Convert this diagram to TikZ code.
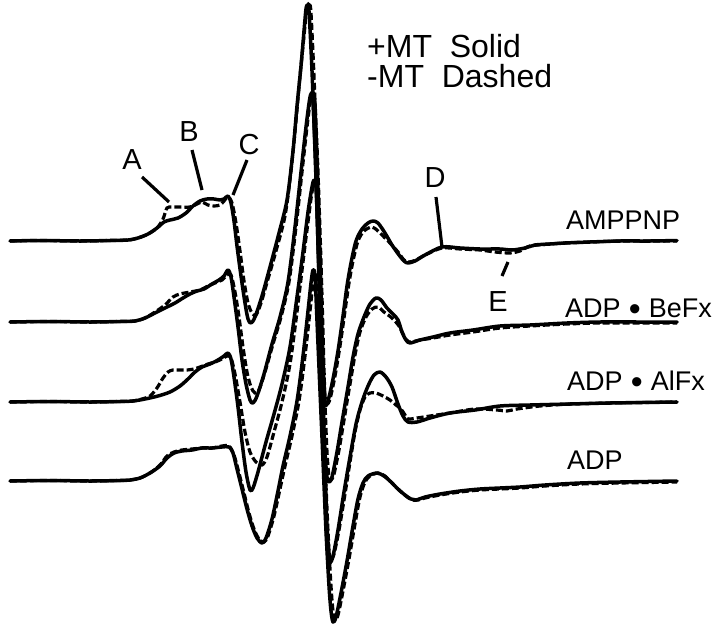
\documentclass[tikz,border=0pt]{standalone}
\usepackage{fontspec}
\setmainfont{Liberation Sans}
\newcommand{\bigdot}{\hspace{0.3em}\raisebox{-2.6pt}{\fontsize{34}{34}\selectfont•}\hspace{0.3em}}
\begin{document}
\begin{tikzpicture}[x=1pt,y=-1pt,
  solidcurve/.style={line width=3.5pt,line join=round,line cap=round},
  dashcurve/.style={line width=3.2pt,dash pattern=on 7pt off 3pt},
  pointer/.style={line width=3.2pt},
  lbl/.style={font=\fontsize{27}{29}\selectfont,anchor=west,inner sep=0pt},
  letter/.style={font=\fontsize{29}{31}\selectfont,inner sep=0pt},
  legend/.style={font=\fontsize{32}{34}\selectfont,anchor=west,inner sep=0pt}]
\useasboundingbox (0,0) rectangle (720,632);
\fill[white] (0,0) rectangle (720,632);
% ---------- AMPPNP ----------
\begin{scope}[shift={(0,241)},yscale=-1]
\draw[solidcurve] plot[smooth,tension=0.5] coordinates {(10,0) (40,0.5) (80,0) (110,0.5) (128,1) (138,3) (148,7) (157,13) (164,19) (170,21) (178,23) (186,28) (193,35) (200,40) (207,42) (214,42) (220,41) (224,42) (228,45) (231,38) (234,20) (237,-5) (241,-35) (245,-62) (248,-78) (251,-82) (255,-76) (262,-55) (270,-26) (279,8) (287,41) (293,90) (297,135) (301,175) (304,210) (306,232) (307.5,236) (309,230) (312,170) (315,90) (317,31) (319,-40) (321,-110) (323,-155) (325,-165) (328,-160) (333,-138) (338,-110) (343,-75) (347,-45) (351,-22) (356,0) (362,12) (368,18) (373,20) (378,18) (385,8) (392,-4) (399,-14) (404,-20) (408,-22) (415,-20) (425,-14) (442,-6) (460,-7) (480,-8) (500,-8) (512,-9) (525,-7) (535,-4) (550,-3) (565,-2) (590,-1) (620,0) (650,0) (677,0.5)};
\draw[dashcurve] plot[smooth,tension=0.5] coordinates {(10,0) (40,0.5) (80,0) (110,0.5) (128,1) (138,3) (148,7) (157,13) (163,22) (167,33) (172,34) (180,34) (190,34) (197,37) (202,39) (208,36) (214,35) (220,36) (224,40) (228,44) (232,38) (236,18) (240,-10) (244,-40) (248,-62) (252,-72) (256,-74) (261,-62) (268,-38) (276,-10) (285,25) (291,70) (296,120) (300,165) (304,205) (307,234) (309.5,236) (311,228) (314,165) (317,85) (319,25) (321,-45) (323,-115) (325,-155) (327,-163) (330,-158) (335,-135) (340,-105) (345,-70) (349,-42) (353,-20) (358,0) (364,10) (372,14) (378,10) (384,4) (390,-2) (398,-11) (404,-19) (409,-21) (416,-19) (425,-14) (442,-7) (460,-8) (480,-9) (495,-11) (510,-12) (520,-10) (530,-5) (550,-3) (565,-2) (590,-1) (620,0) (650,0) (677,0)};
\end{scope}
% ---------- ADP.BeFx ----------
\begin{scope}[shift={(0,322)},yscale=-1]
\draw[solidcurve] plot[smooth,tension=0.5] coordinates {(10,0) (50,0.5) (90,0) (120,0.5) (135,1) (145,4) (155,9) (165,14) (175,19) (183,24) (190,28) (197,31) (204,33) (212,38) (219,42) (224,46) (228,52) (231,45) (234,25) (238,-5) (242,-38) (246,-62) (250,-78) (253,-81) (257,-74) (264,-52) (272,-22) (280,5) (288,40) (295,95) (301,150) (306,195) (309.5,222) (311.5,229) (313,222) (316,150) (319,60) (321,-10) (323,-80) (325,-130) (327,-155) (329,-160) (332,-155) (337,-130) (342,-100) (348,-65) (353,-35) (358,-12) (364,5) (370,18) (376,24) (381,22) (387,14) (393,8) (398,2) (402,-10) (406,-18) (410,-21) (420,-18) (433,-15) (450,-11) (473,-8) (500,-4) (530,-3) (567,-1) (600,0) (640,0) (677,0)};
\draw[dashcurve] plot[smooth,tension=0.5] coordinates {(10,0) (50,0.5) (90,0) (120,0.5) (135,1) (145,4) (155,10) (165,17) (173,25) (180,28) (190,30) (200,32) (208,36) (215,39) (222,42) (227,47) (231,47) (235,30) (239,5) (243,-25) (247,-50) (251,-65) (255,-71) (259,-68) (265,-50) (273,-22) (281,5) (289,40) (296,95) (302,150) (307,195) (310.5,222) (313,229) (315,220) (318,150) (321,60) (323,-10) (325,-80) (327,-130) (329,-155) (331,-158) (334,-152) (339,-128) (344,-98) (350,-62) (355,-33) (360,-10) (366,5) (372,13) (378,15) (384,10) (392,4) (399,-4) (404,-14) (409,-20) (420,-18) (433,-16) (450,-13) (473,-10) (500,-6) (530,-4) (567,-2) (600,-1) (640,-1) (677,-1)};
\end{scope}
% ---------- ADP.AlFx ----------
\begin{scope}[shift={(0,402)},yscale=-1]
\draw[solidcurve] plot[smooth,tension=0.5] coordinates {(10,0) (50,0.5) (90,0) (120,0.5) (133,1) (145,3) (158,6) (170,10) (180,16) (188,23) (195,30) (202,35) (210,38) (218,42) (224,46) (228,49) (231,43) (234,25) (238,-5) (242,-40) (246,-70) (250,-88) (253,-86) (258,-70) (266,-40) (274,-12) (282,18) (290,55) (297,105) (303,150) (308,190) (312,215) (314,222) (316,215) (318,160) (320,90) (322,20) (324,-60) (326,-120) (328,-155) (330,-161) (333,-154) (338,-128) (344,-90) (350,-55) (356,-22) (362,0) (368,16) (374,27) (380,30) (386,25) (392,15) (398,-2) (403,-14) (408,-20) (417,-20) (430,-16) (450,-11) (475,-8) (500,-4) (530,-3) (570,-2) (610,-1) (677,0)};
\draw[dashcurve] plot[smooth,tension=0.5] coordinates {(10,0) (50,0.5) (90,0) (120,0.5) (133,1) (142,3) (150,6) (157,14) (163,24) (168,30) (173,32) (180,32) (187,32) (194,33) (200,35) (208,38) (215,40) (222,43) (227,46) (231,44) (235,28) (240,0) (245,-30) (250,-50) (256,-60) (262,-63) (267,-55) (274,-30) (282,0) (290,38) (297,90) (303,140) (308,180) (312,210) (315,220) (317,212) (319,160) (321,90) (323,20) (325,-60) (327,-120) (329,-150) (331,-157) (334,-152) (339,-128) (345,-92) (350,-60) (355,-30) (360,-8) (365,5) (370,9) (376,9) (383,6) (390,2) (396,-3) (401,-7) (405,-13) (408,-17) (417,-16) (430,-14) (450,-11) (475,-7) (497,-8) (507,-9) (517,-7) (540,-4) (570,-2) (610,-1) (677,0)};
\end{scope}
% ---------- ADP ----------
\begin{scope}[shift={(0,481)},yscale=-1]
\draw[solidcurve] plot[smooth,tension=0.5] coordinates {(10,0) (50,0.5) (90,0) (120,0.5) (130,1) (140,3) (150,8) (160,15) (167,23) (174,28) (182,30) (192,31) (202,33) (212,33) (222,34) (229,34) (233,28) (237,12) (242,-8) (247,-28) (252,-45) (257,-57) (262,-62) (266,-57) (272,-38) (278,-10) (283,15) (290,45) (297,80) (303,125) (308,170) (311,198) (313,211) (315,205) (317,160) (320,90) (323,20) (326,-50) (329,-105) (331,-130) (333,-141) (336,-136) (341,-112) (347,-80) (353,-45) (358,-18) (363,-2) (368,5) (377,8) (384,5) (391,-1) (398,-8) (405,-14) (411,-18) (416,-19) (425,-16) (440,-13) (460,-10) (480,-8) (500,-7) (520,-6) (545,-4) (580,-2) (620,-1) (677,0)};
\draw[dashcurve] plot[smooth,tension=0.5] coordinates {(10,0) (50,0.5) (90,0) (120,0.5) (130,1) (140,3) (150,8) (160,16) (167,25) (174,29) (182,31) (192,32) (202,33) (212,33) (222,35) (229,35) (234,26) (239,8) (244,-12) (249,-32) (254,-48) (259,-58) (264,-61) (268,-55) (274,-35) (280,-8) (285,15) (292,45) (299,80) (305,125) (310,170) (313,198) (315,208) (317,200) (319,160) (322,90) (325,20) (328,-50) (331,-105) (333,-130) (335,-139) (338,-134) (343,-110) (349,-78) (355,-43) (360,-16) (365,-1) (370,5) (378,8) (385,5) (392,-2) (399,-9) (406,-15) (412,-19) (418,-19) (425,-17) (440,-14) (460,-11) (480,-9) (500,-8) (520,-7) (545,-5) (580,-3) (620,-2) (677,-1)};
\end{scope}
% ---------- labels ----------
\node[legend] (solidkey) at (367,46) {+MT\ \ Solid};
\node[legend] (dashkey) at (367,76) {-MT\ \ Dashed};
\node[lbl] (amppnp) at (566,220) {AMPPNP};
\node[lbl] (befx) at (565,310) {ADP\bigdot BeFx};
\node[lbl] (alfx) at (567,382) {ADP\bigdot AlFx};
\node[lbl] (adp) at (567,460) {ADP};
\node[letter] (A) at (132,160) {A};
\node[letter] (B) at (189,132) {B};
\node[letter] (C) at (249,145) {C};
\node[letter] (D) at (435,178) {D};
\node[letter] (E) at (498,302) {E};
\coordinate (A1) at (142,177); \coordinate (A2) at (169,202);
\coordinate (B1) at (192,150); \coordinate (B2) at (202,190);
\coordinate (C1) at (247,160); \coordinate (C2) at (233,195);
\coordinate (D1) at (436,197); \coordinate (D2) at (442,247);
\coordinate (E1) at (508,262); \coordinate (E2) at (502,276);
\draw[pointer] (A1) -- (A2);
\draw[pointer] (B1) -- (B2);
\draw[pointer] (C1) -- (C2);
\draw[pointer] (D1) -- (D2);
\draw[pointer] (E1) -- (E2);
\end{tikzpicture}
\end{document}
